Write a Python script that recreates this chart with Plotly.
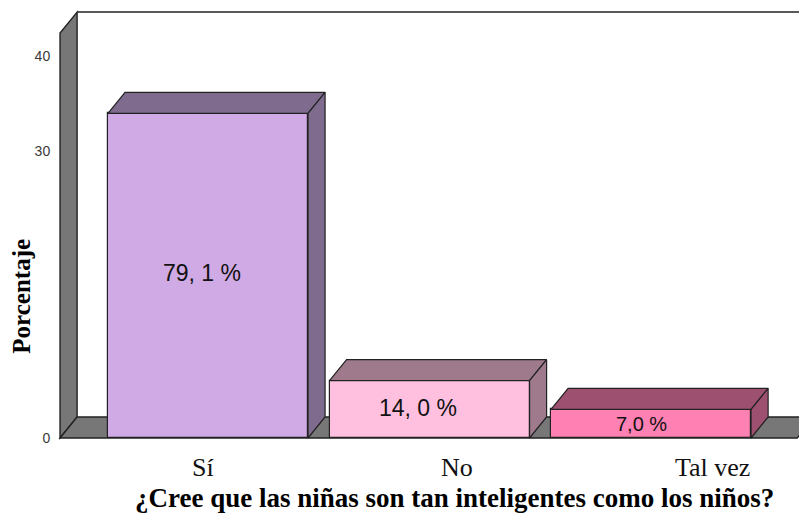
import plotly.graph_objects as go

# ---- data ----
categories = ["Sí", "No", "Tal vez"]
counts = [34, 6, 3]
pct_labels = ["79, 1 %", "14, 0 %", "7,0 %"]
y_tick_vals = [0, 30, 40]
y_tick_text = ["0", "30", "40"]

# ---- styling / geometry constants ----
front_colors = ["#D0AAE4", "#FFC0DF", "#FF80B2"]
shade_colors = ["#7E6B8E", "#9E7A8C", "#9E5071"]
label_sizes = [23, 23, 20]
label_xshift = [-6, -12, -10]
label_yshift = [3, 1, 0]
cat_xshift = [-5, 27, 61]
OUT = "#222222"
WALL = "#777777"
BAR_W = 0.903
DX = 0.077          # depth offset in x (data units)
DY = 2.2            # depth offset in y (data units)
X_WALL = -0.668
X_FLOOR_END = 2.66
WALL_TOP = 42.4
X_RANGE = [-0.6817, 2.704]
Y_RANGE = [-0.209, 44.82]

fig = go.Figure()

# walls and floor as background shapes
shapes = []
shapes.append(dict(type="line", xref="x", yref="y", layer="below",
                   x0=X_WALL + DX, y0=WALL_TOP + DY, x1=X_RANGE[1] + 0.1, y1=WALL_TOP + DY,
                   line=dict(color=OUT, width=1.5)))
shapes.append(dict(type="path", xref="x", yref="y", layer="below",
                   path=f"M {X_WALL},0 L {X_WALL},{WALL_TOP} L {X_WALL+DX},{WALL_TOP+DY} "
                        f"L {X_WALL+DX},{DY} Z",
                   fillcolor=WALL, line=dict(color=OUT, width=1.4)))
shapes.append(dict(type="path", xref="x", yref="y", layer="below",
                   path=f"M {X_WALL},0 L {X_WALL+DX},{DY} L {X_FLOOR_END+DX},{DY} "
                        f"L {X_FLOOR_END},0 Z",
                   fillcolor=WALL, line=dict(color=OUT, width=1.4)))

# bar front faces
fig.add_trace(go.Bar(
    x=list(range(len(categories))), y=counts, width=BAR_W,
    marker=dict(color=front_colors, line=dict(color=OUT, width=1.2)),
    hoverinfo="skip", showlegend=False,
))

# bar top and side faces (3D effect)
for i, v in enumerate(counts):
    xl, xr = i - BAR_W / 2, i + BAR_W / 2
    fig.add_trace(go.Scatter(
        x=[xl, xl + DX, xr + DX, xr, xl], y=[v, v + DY, v + DY, v, v],
        mode="lines", fill="toself", fillcolor=shade_colors[i],
        line=dict(color=OUT, width=1.2), hoverinfo="skip", showlegend=False))
    fig.add_trace(go.Scatter(
        x=[xr, xr + DX, xr + DX, xr, xr], y=[v, v + DY, DY, 0, v],
        mode="lines", fill="toself", fillcolor=shade_colors[i],
        line=dict(color=OUT, width=1.2), hoverinfo="skip", showlegend=False))

annotations = []
for i, v in enumerate(counts):
    annotations.append(dict(x=i, y=v / 2, xref="x", yref="y", text=pct_labels[i],
                            showarrow=False, xshift=label_xshift[i], yshift=label_yshift[i],
                            font=dict(family="Liberation Sans, Arial", size=label_sizes[i], color="#111111")))
    annotations.append(dict(x=i, y=-0.065, xref="x", yref="paper", text=categories[i],
                            showarrow=False, xshift=cat_xshift[i], yanchor="middle",
                            font=dict(family="Liberation Serif, Times New Roman", size=26, color="#111111")))

annotations.append(dict(x=0.53, y=-0.135, xref="paper", yref="paper",
                        text="<b>¿Cree que las niñas son tan inteligentes como los niños?</b>",
                        showarrow=False, yanchor="middle",
                        font=dict(family="Liberation Serif, Times New Roman", size=27, color="#000000")))
annotations.append(dict(x=-0.047, y=0.335, xref="paper", yref="paper",
                        text="<b>Porcentaje</b>", textangle=-90,
                        showarrow=False, xanchor="center", yanchor="middle",
                        font=dict(family="Liberation Serif, Times New Roman", size=25, color="#000000")))

# page body has an 8px margin, so the figure is sized/margined to compensate
fig.update_layout(
    width=799, height=508,
    margin=dict(l=49, r=0, t=2, b=76),
    plot_bgcolor="white", paper_bgcolor="white",
    shapes=shapes, annotations=annotations,
    bargap=0,
    xaxis=dict(range=X_RANGE, showgrid=False, zeroline=False, showline=False,
               showticklabels=False, ticks=""),
    yaxis=dict(range=Y_RANGE, tickvals=y_tick_vals, ticktext=y_tick_text,
               showgrid=False, zeroline=False, showline=False,
               ticks="outside", ticklen=3, tickcolor="rgba(0,0,0,0)",
               tickfont=dict(family="Liberation Sans, Arial", size=14, color="#3a3a3a")),
)

fig.write_html("out.html")
